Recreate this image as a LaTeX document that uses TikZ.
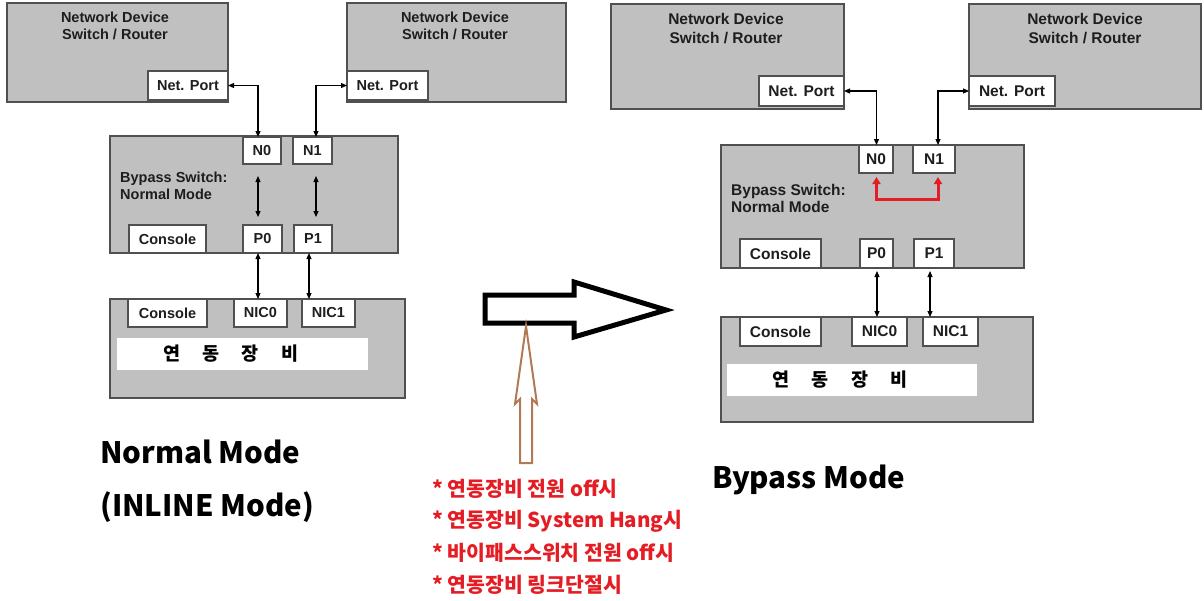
\documentclass[tikz,border=0pt]{standalone}
\usepackage{fontspec}
\setmainfont{Liberation Sans}
\newfontfamily\krfont{Noto Sans CJK KR}
\usetikzlibrary{arrows.meta}
\definecolor{boxgray}{RGB}{192,192,192}
\definecolor{boxline}{RGB}{80,80,80}
\definecolor{txtc}{RGB}{30,30,30}
\definecolor{redtxt}{RGB}{228,28,36}
\definecolor{brownc}{RGB}{178,122,84}
\begin{document}
\begin{tikzpicture}[x=1pt,y=-1pt,
  gbox/.style={draw=boxline, fill=boxgray, line width=1.3pt, inner sep=0pt, outer sep=0pt, anchor=north west},
  wbox/.style={draw=boxline, fill=white, line width=1.3pt, inner sep=0pt, outer sep=0pt, anchor=north west, text=txtc, font=\bfseries\fontsize{14.5}{16}\selectfont},
  rwbox/.style={wbox, font=\bfseries\fontsize{15.5}{17}\selectfont},
  banner/.style={fill=white, inner sep=0pt, outer sep=0pt, anchor=north west},
  devtxt/.style={align=center, inner sep=0pt, text=txtc, font=\bfseries\fontsize{14.5}{17}\selectfont},
  rdevtxt/.style={align=center, inner sep=0pt, text=txtc, font=\bfseries\fontsize{15.5}{19}\selectfont},
  swtxt/.style={align=left, anchor=west, inner sep=0pt, text=txtc, font=\bfseries\fontsize{14.5}{17}\selectfont},
  rswtxt/.style={align=left, anchor=west, inner sep=0pt, text=txtc, font=\bfseries\fontsize{15.5}{17}\selectfont},
  kortxt/.style={inner sep=0pt, text=black, font=\krfont\bfseries\fontsize{18.5}{20}\selectfont},
  biglbl/.style={anchor=west, inner sep=0pt, text=black, font=\krfont\bfseries\fontsize{29.5}{33}\selectfont},
  redlbl/.style={anchor=west, inner sep=0pt, text=redtxt, font=\krfont\bfseries\fontsize{20.5}{23}\selectfont},
  conn/.style={line width=1.1pt, black, {Triangle[length=6pt,width=5pt]}-{Triangle[length=6pt,width=5pt]}},
  redconn/.style={line width=3pt, redtxt, {Triangle[length=7pt,width=8pt]}-{Triangle[length=7pt,width=8pt]}}
]
\useasboundingbox (0,0) rectangle (1204,600);

% ================= LEFT (Normal mode) =================
\node[gbox, minimum width=221pt, minimum height=99pt] (LAdev) at (7,3) {};
\node[wbox, minimum width=80pt, minimum height=29pt] (LAport) at (148,71) {Net. Port};
\node[devtxt] (LAt) at (115,25.5) {Network Device\\Switch / Router};

\node[gbox, minimum width=219pt, minimum height=99pt] (LBdev) at (347,3) {};
\node[wbox, minimum width=81pt, minimum height=29pt] (LBport) at (347,71) {Net. Port};
\node[devtxt] (LBt) at (455,25.5) {Network Device\\Switch / Router};

\node[gbox, minimum width=288pt, minimum height=117pt] (Lsw) at (110,136) {};
\node[wbox, minimum width=38pt, minimum height=27pt] (LN0) at (243,137) {N0};
\node[wbox, minimum width=39pt, minimum height=27pt] (LN1) at (293,137) {N1};
\node[wbox, minimum width=77pt, minimum height=28pt] (Lcon) at (129,225) {Console};
\node[wbox, minimum width=39pt, minimum height=28pt] (LP0) at (243,225) {P0};
\node[wbox, minimum width=38pt, minimum height=28pt] (LP1) at (294,225) {P1};
\node[swtxt] (Lswt) at (120,185.5) {Bypass Switch:\\Normal Mode};

\node[gbox, minimum width=295pt, minimum height=99pt] (Ldev) at (110,299) {};
\node[wbox, minimum width=79pt, minimum height=28pt] (Lcon2) at (128,299) {Console};
\node[wbox, minimum width=53pt, minimum height=28pt] (LNIC0) at (234,299) {NIC0};
\node[wbox, minimum width=53pt, minimum height=28pt] (LNIC1) at (302,299) {NIC1};
\node[banner, minimum width=251pt, minimum height=32pt] (Lban) at (117,338) {};
\node[kortxt] (Lbant) at (231,354) {연\hspace{22pt}동\hspace{22pt}장\hspace{22pt}비};

\draw[conn] (LAport.east) -| ([xshift=-4pt]LN0.north);
\draw[conn] ([xshift=3.5pt]LN1.north) |- (LBport.west);
\draw[conn] ([xshift=-4pt,yshift=-12pt]LN0.south) -- ([xshift=-4.5pt,yshift=8pt]LP0.north);
\draw[conn] ([xshift=3.5pt,yshift=-12pt]LN1.south) -- ([xshift=3pt,yshift=8pt]LP1.north);
\draw[conn] ([xshift=-4.5pt]LP0.south) -- ([xshift=-4.5pt]LP0.south |- LNIC0.north);
\draw[conn] ([xshift=-4pt]LP1.south) -- ([xshift=-4pt]LP1.south |- LNIC1.north);

\node[biglbl] (Lmode1) at (100,452) {Normal Mode};
\node[biglbl] (Lmode2) at (100,507) {(INLINE Mode)};

% ================= MIDDLE =================
\draw[line width=5pt, line join=miter, fill=white] (485,295) -- (574,295) -- (574,282) -- (666,310) -- (574,337) -- (574,323) -- (485,323) -- cycle;
\draw[line width=2pt, brownc, line join=miter, fill=white] (520,463) -- (520,399) -- (515,404) -- (526,326) -- (537,404) -- (532,399) -- (532,463) -- cycle;

\node[redlbl] (r1) at (432,489) {* 연동장비 전원 off시};
\node[redlbl] (r2) at (432,521) {* 연동장비 System Hang시};
\node[redlbl] (r3) at (432,553) {* 바이패스스위치 전원 off시};
\node[redlbl] (r4) at (432,585) {* 연동장비 링크단절시};

% ================= RIGHT (Bypass mode) =================
\node[gbox, minimum width=233pt, minimum height=105pt] (RAdev) at (611,4) {};
\node[rwbox, minimum width=85pt, minimum height=30pt] (RAport) at (759,76) {Net. Port};
\node[rdevtxt] (RAt) at (726,28.5) {Network Device\\Switch / Router};

\node[gbox, minimum width=232pt, minimum height=105pt] (RBdev) at (969,4) {};
\node[rwbox, minimum width=86pt, minimum height=30pt] (RBport) at (969,76) {Net. Port};
\node[rdevtxt] (RBt) at (1085,28.5) {Network Device\\Switch / Router};

\node[gbox, minimum width=303pt, minimum height=123pt] (Rsw) at (721,145) {};
\node[rwbox, minimum width=34pt, minimum height=28pt] (RN0) at (859,145) {N0};
\node[rwbox, minimum width=42pt, minimum height=28pt] (RN1) at (913,145) {N1};
\node[rwbox, minimum width=81pt, minimum height=29pt] (Rcon) at (740,239) {Console};
\node[rwbox, minimum width=33pt, minimum height=29pt] (RP0) at (860,239) {P0};
\node[rwbox, minimum width=40pt, minimum height=29pt] (RP1) at (914,239) {P1};
\node[rswtxt] (Rswt) at (731,198.5) {Bypass Switch:\\Normal Mode};

\node[gbox, minimum width=312pt, minimum height=105pt] (Rdev) at (721,317) {};
\node[rwbox, minimum width=81pt, minimum height=29pt] (Rcon2) at (740,317) {Console};
\node[rwbox, minimum width=55pt, minimum height=29pt] (RNIC0) at (852,317) {NIC0};
\node[rwbox, minimum width=55pt, minimum height=29pt] (RNIC1) at (923,317) {NIC1};
\node[banner, minimum width=250pt, minimum height=32pt] (Rban) at (727,364) {};
\node[kortxt] (Rbant) at (840,380) {연\hspace{22pt}동\hspace{22pt}장\hspace{22pt}비};

\draw[conn] (RAport.east) -| ([xshift=0.5pt]RN0.north);
\draw[conn] ([xshift=4pt]RN1.north) |- (RBport.west);
\draw[redconn] ([xshift=0.5pt,yshift=-4pt]RN0.south) -- ++(0,22) -| ([xshift=4pt,yshift=-4pt]RN1.south);
\draw[conn] ([xshift=0.5pt,yshift=-3pt]RP0.south) -- ([xshift=0.5pt]RP0.south |- RNIC0.north);
\draw[conn] ([xshift=-4pt,yshift=-3pt]RP1.south) -- ([xshift=-4pt]RP1.south |- RNIC1.north);

\node[biglbl] (Rmode) at (712,480) {Bypass Mode};
\end{tikzpicture}
\end{document}
